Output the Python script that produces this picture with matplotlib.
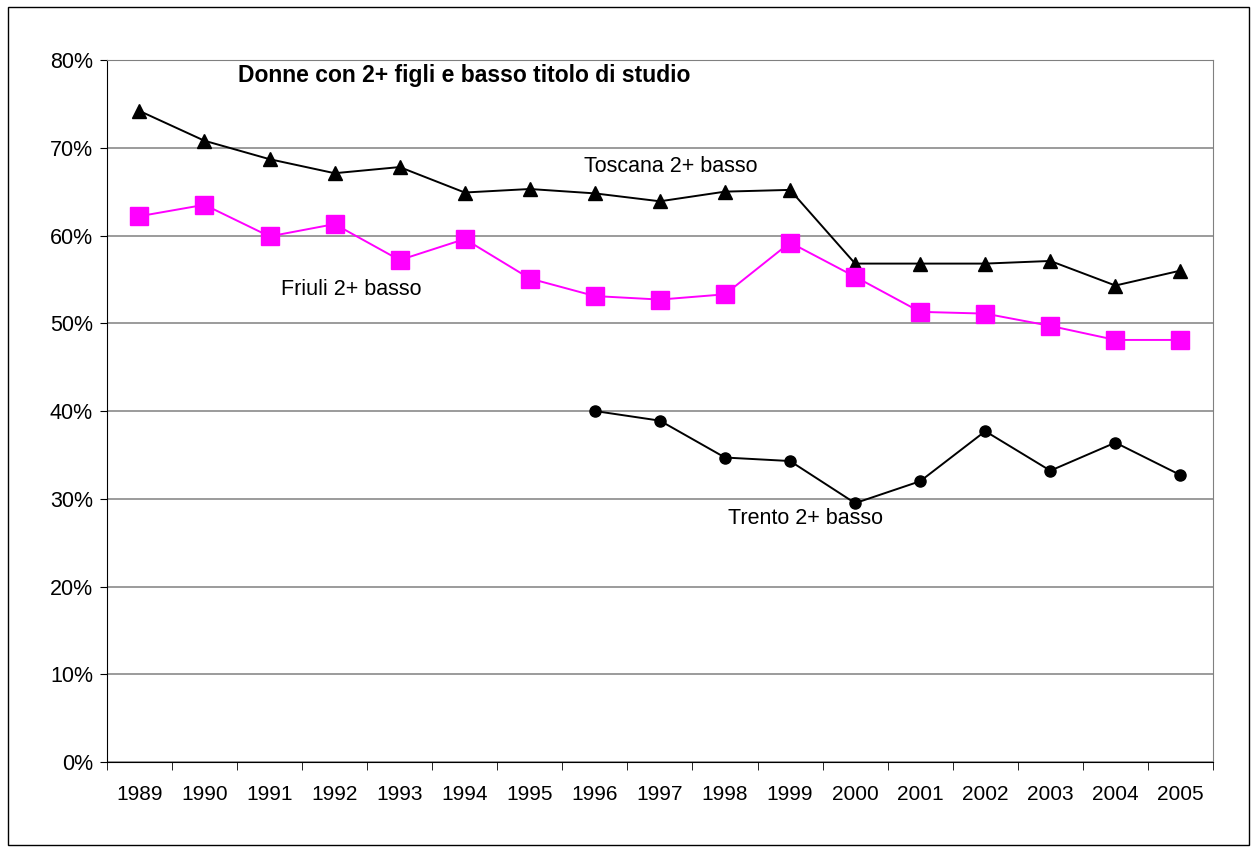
import numpy as np
import matplotlib.pyplot as plt
from matplotlib.patches import Rectangle
from matplotlib.ticker import FuncFormatter

plt.rcParams["font.family"] = ["Liberation Sans", "DejaVu Sans"]

years = [str(y) for y in range(1989, 2006)]
toscana = [74.2, 70.8, 68.7, 67.1, 67.8, 64.9, 65.3, 64.8, 63.9, 65.0, 65.2,
           56.8, 56.8, 56.8, 57.1, 54.3, 56.0]
friuli = [62.2, 63.5, 59.9, 61.3, 57.2, 59.6, 55.1, 53.1, 52.7, 53.3, 59.2,
          55.3, 51.3, 51.1, 49.7, 48.1, 48.1]
trento_years = years[7:]
trento = [40.0, 38.9, 34.7, 34.3, 29.5, 32.0, 37.7, 33.2, 36.4, 32.7]

x = np.arange(len(years))
xt = np.array([years.index(y) for y in trento_years])

fig = plt.figure(figsize=(12.57, 8.5), dpi=100)
ax = fig.add_axes([0.085, 0.1035, 0.88, 0.8259])

# outer chart frame
fig.patches.append(Rectangle((0.006, 0.006), 0.988, 0.986, transform=fig.transFigure,
                             fill=False, edgecolor="black", linewidth=1.0))

ax.plot(x, toscana, color="black", linewidth=1.4, marker="^", markersize=10,
        zorder=3)
ax.plot(x, friuli, color="#ff00ff", linewidth=1.4, marker="s", markersize=13,
        zorder=3)
ax.plot(xt, trento, color="black", linewidth=1.4, marker="o", markersize=8,
        zorder=3)

ax.set_xlim(-0.5, len(years) - 0.5)
ax.set_ylim(0, 80)
ax.set_yticks(np.arange(0, 81, 10))
ax.yaxis.set_major_formatter(FuncFormatter(lambda v, p: "%d%%" % v))
ax.set_xticks(x)
ax.set_xticklabels(years)
ax.set_xticks(np.arange(-0.5, len(years), 1), minor=True)
ax.tick_params(axis="x", which="major", length=0, pad=16.5, labelsize=15)
ax.tick_params(axis="x", which="minor", length=6, direction="out", color="black")
ax.tick_params(axis="y", length=5, direction="out", labelsize=15.5, pad=5)

ax.grid(axis="y", color="#808080", linewidth=1.1)
ax.set_axisbelow(True)
for s in ["top", "right"]:
    ax.spines[s].set_color("#808080")
for s in ["left", "bottom"]:
    ax.spines[s].set_color("black")

ax.text(1.51, 78.2, "Donne con 2+ figli e basso titolo di studio", fontsize=16.5,
        fontweight="bold", va="center", ha="left")
ax.text(6.83, 67.9, "Toscana 2+ basso", fontsize=15.5, va="center", ha="left")
ax.text(2.17, 53.8, "Friuli 2+ basso", fontsize=15.5, va="center", ha="left")
ax.text(9.05, 27.7, "Trento 2+ basso", fontsize=15.5, va="center", ha="left")

fig.savefig("out.png", dpi=100)
